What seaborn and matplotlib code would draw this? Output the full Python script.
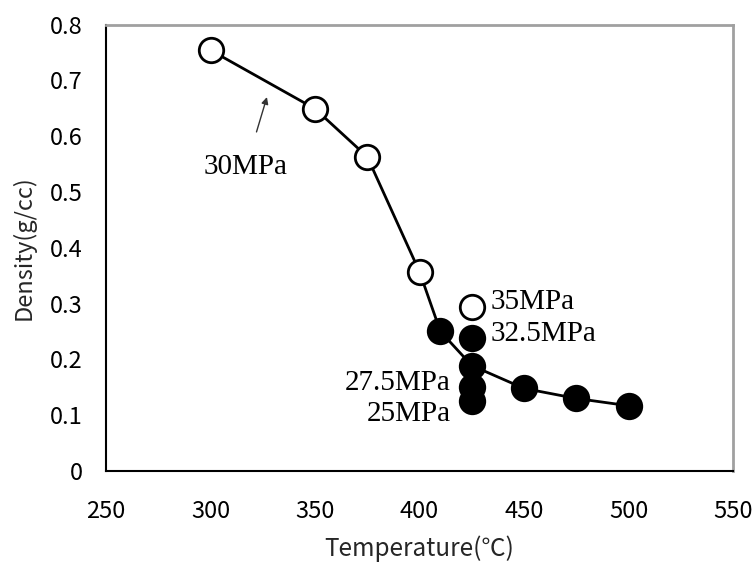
import matplotlib
matplotlib.use("Agg")
import matplotlib.pyplot as plt
import seaborn as sns
import pandas as pd

# 30 MPa isobar
temps_30 = [300, 350, 375, 400, 410, 425, 450, 475, 500]
dens_30 = [0.754, 0.649, 0.563, 0.357, 0.250, 0.189, 0.148, 0.130, 0.117]
open_30 = [True, True, True, True, False, False, False, False, False]

# 425 C isotherm at other pressures
pressures_425 = ["35MPa", "32.5MPa", "27.5MPa", "25MPa"]
temps_425 = [425, 425, 425, 425]
dens_425 = [0.293, 0.238, 0.151, 0.126]
open_425 = [True, False, False, False]

x_ticks = [250, 300, 350, 400, 450, 500, 550]
y_ticks = [0, 0.1, 0.2, 0.3, 0.4, 0.5, 0.6, 0.7, 0.8]
y_tick_labels = ["0", "0.1", "0.2", "0.3", "0.4", "0.5", "0.6", "0.7", "0.8"]

sns.set_theme(style="white")
plt.rcParams['font.family'] = ['Noto Sans CJK JP', 'DejaVu Sans']

df_line = pd.DataFrame({"T": temps_30, "D": dens_30, "open": open_30})
df_iso = pd.DataFrame({"T": temps_425, "D": dens_425, "open": open_425, "P": pressures_425})
df_pts = pd.concat([df_line, df_iso], ignore_index=True)

fig = plt.figure(figsize=(7.55, 5.66), dpi=100)
ax = fig.add_axes([0.1404, 0.1678, 0.8305, 0.7889])

sns.lineplot(data=df_line, x="T", y="D", ax=ax, color="black", linewidth=2,
             sort=False, zorder=2)
filled = df_pts[~df_pts["open"]]
opened = df_pts[df_pts["open"]]
sns.scatterplot(data=filled, x="T", y="D", ax=ax, s=330, color="black",
                edgecolor="black", linewidth=1.5, zorder=3)
sns.scatterplot(data=opened, x="T", y="D", ax=ax, s=310, color="white",
                edgecolor="black", linewidth=2, zorder=3)

ax.set_xlim(250, 550)
ax.set_ylim(0, 0.8)
ax.set_xticks(x_ticks)
ax.set_xticklabels([str(v) for v in x_ticks])
ax.set_yticks(y_ticks)
ax.set_yticklabels(y_tick_labels)
ax.tick_params(axis="both", direction="in", length=5, width=1, colors="black",
               labelsize=17)
ax.tick_params(axis="x", pad=21)
ax.tick_params(axis="y", pad=17)

for side in ["left", "bottom"]:
    ax.spines[side].set_color("black")
    ax.spines[side].set_linewidth(1.5)
for side in ["top", "right"]:
    ax.spines[side].set_color("#a0a0a0")
    ax.spines[side].set_linewidth(2)

ax.set_xlabel("Temperature(℃)", fontsize=17.5, labelpad=9)
ax.set_ylabel("Density(g/cc)", fontsize=17, labelpad=10)

serif = dict(family="Liberation Serif", fontsize=21, color="black")
ax.annotate("30MPa", xy=(327, 0.670), xytext=(317, 0.545),
            ha="center", va="center",
            arrowprops=dict(arrowstyle="-|>", color="#333333", lw=1,
                            mutation_scale=10, shrinkA=14, shrinkB=0),
            **serif)
ax.text(434, 0.303, pressures_425[0], ha="left", va="center", **serif)
ax.text(434, 0.245, pressures_425[1], ha="left", va="center", **serif)
ax.text(415, 0.157, pressures_425[2], ha="right", va="center", **serif)
ax.text(415, 0.103, pressures_425[3], ha="right", va="center", **serif)

fig.savefig("out.png", dpi=100)
